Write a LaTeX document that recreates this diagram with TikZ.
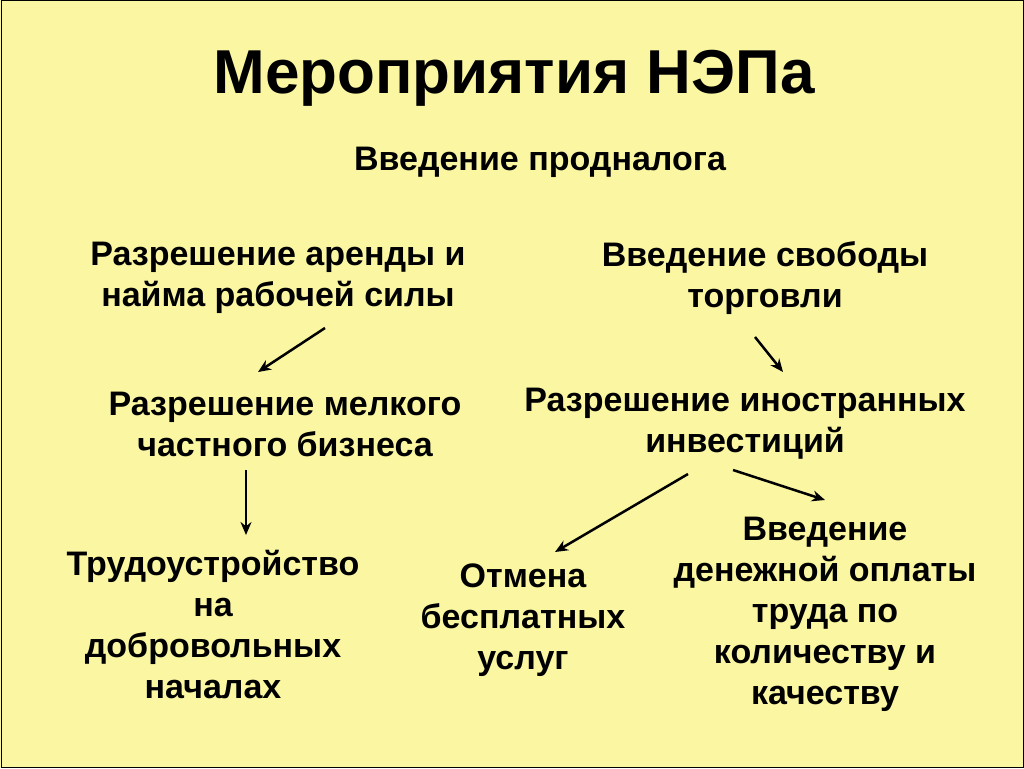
\documentclass[tikz,border=0pt]{standalone}
\usepackage{fontspec}
\setmainfont{Liberation Sans}
\usetikzlibrary{arrows.meta}
\usetikzlibrary{positioning}
\definecolor{paper}{HTML}{FAF6A2}

\begin{document}
\begin{tikzpicture}[x=1pt,y=-1pt]
	\fill[paper] (0,0) rectangle (1024,768);
	\draw[line width=1pt] (1,1) rectangle (1023,767);
	\useasboundingbox (0,0) rectangle (1024,768);

	\begin{scope}[every node/.style={align=center, font=\fontsize{34}{41}\selectfont\bfseries}]
		\node[font=\fontsize{62}{66}\selectfont\bfseries] (title) at (514,78) {Мероприятия НЭПа};
		\node (tax) at (540,162) {Введение продналога};
		\node (rent) at (278,278) {Разрешение аренды и\\найма рабочей силы};
		\node (trade) at (765,278) {Введение свободы\\торговли};
		\node (small) at (285,424) {Разрешение мелкого\\частного бизнеса};
		\node (invest) at (745,424) {Разрешение иностранных\\инвестиций};
		\node (work) at (213,625) {Трудоустройство\\на\\добровольных\\началах};
		\node (free) at (523,620) {Отмена\\бесплатных\\услуг};
		\node (pay) at (825,614) {Введение\\денежной оплаты\\труда по\\количеству и\\качеству};
	\end{scope}

	\coordinate (a1) at (325,328); \coordinate (b1) at (258,372);
	\coordinate (a2) at (755,337); \coordinate (b2) at (783,372);
	\coordinate (a3) at (246,470); \coordinate (b3) at (246,535);
	\coordinate (a4) at (688,474); \coordinate (b4) at (555,552);
	\coordinate (a5) at (733,470); \coordinate (b5) at (825,500);

	\begin{scope}[>={Stealth[length=13pt,width=11pt]}, line width=2.5pt]
		\draw[->] (a1) -- (b1);
		\draw[->] (a2) -- (b2);
		\draw[->] (a3) -- (b3);
		\draw[->] (a4) -- (b4);
		\draw[->] (a5) -- (b5);
	\end{scope}
\end{tikzpicture}
\end{document}
